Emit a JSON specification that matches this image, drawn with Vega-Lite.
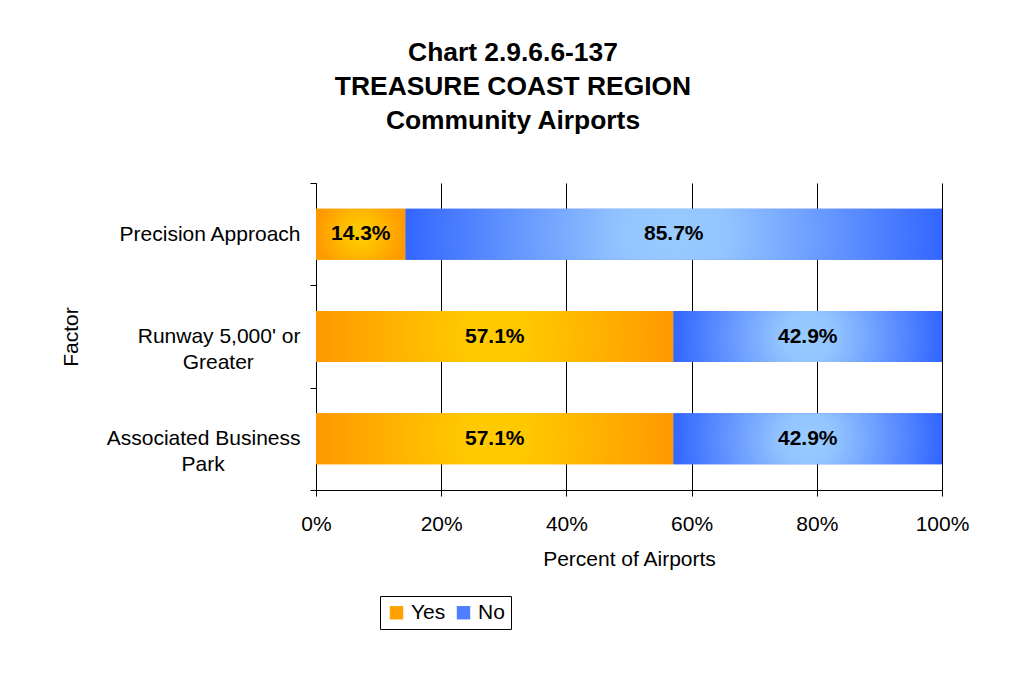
{
  "$schema": "https://vega.github.io/schema/vega-lite/v6.json",
  "width": 626,
  "height": 307,
  "autosize": {"type": "none"},
  "padding": {"left": 316, "top": 183, "right": 71, "bottom": 185},
  "background": "white",
  "config": {
    "view": {"stroke": null},
    "font": "Liberation Sans"
  },
  "title": {
    "text": ["Chart 2.9.6.6-137", "TREASURE COAST REGION", "Community Airports"],
    "font": "Liberation Sans",
    "fontSize": 26.4,
    "fontWeight": "bold",
    "lineHeight": 34,
    "color": "black",
    "anchor": "middle",
    "offset": 38,
    "dx": -116
  },
  "data": {
    "values": [
      {"factor": "Precision Approach", "answer": "Yes", "pct": 0.143},
      {"factor": "Precision Approach", "answer": "No", "pct": 0.857},
      {"factor": "Runway 5,000' or Greater", "answer": "Yes", "pct": 0.571},
      {"factor": "Runway 5,000' or Greater", "answer": "No", "pct": 0.429},
      {"factor": "Associated Business Park", "answer": "Yes", "pct": 0.571},
      {"factor": "Associated Business Park", "answer": "No", "pct": 0.429}
    ]
  },
  "transform": [
    {"stack": "pct", "groupby": ["factor"], "sort": [{"field": "answer", "order": "descending"}], "as": ["x0", "x1"]},
    {"calculate": "(datum.x0 + datum.x1) / 2", "as": "xmid"}
  ],
  "encoding": {
    "y": {
      "field": "factor",
      "type": "nominal",
      "sort": ["Precision Approach", "Runway 5,000' or Greater", "Associated Business Park"],
      "scale": {"paddingInner": 0, "paddingOuter": 0},
      "axis": {
        "tickBand": "extent",
        "tickSize": 6,
        "tickColor": "black",
        "domainColor": "black",
        "grid": false,
        "labelFontSize": 21,
        "labelColor": "black",
        "labelPadding": 10,
        "labelLineHeight": 26,
        "labelLimit": 0,
        "labelExpr": "datum.value == 'Precision Approach' ? 'Precision Approach' : datum.value == \"Runway 5,000' or Greater\" ? [\"Runway 5,000' or\", \"Greater\u00a0\u00a0\u00a0\u00a0\u00a0\u00a0\u00a0\u00a0\u200b\"] : datum.value == 'Associated Business Park' ? [\"Associated Business\", \"Park\u00a0\u00a0\u00a0\u00a0\u00a0\u00a0\u00a0\u00a0\u00a0\u00a0\u00a0\u00a0\u00a0\u200b\"] : ''",
        "title": "Factor",
        "titleFontSize": 21,
        "titleFontWeight": "normal",
        "titleColor": "black",
        "titlePadding": 35
      }
    }
  },
  "layer": [
    {
      "mark": {"type": "bar", "size": 51},
      "encoding": {
        "x": {
          "field": "x0",
          "type": "quantitative",
          "title": "Percent of Airports",
          "scale": {"domain": [0, 1], "nice": false},
          "axis": {
            "values": [0, 0.2, 0.4, 0.6, 0.8, 1],
            "format": ".0%",
            "grid": true,
            "gridColor": "black",
            "gridWidth": 1,
            "domainColor": "black",
            "tickColor": "black",
            "tickSize": 6,
            "labelFontSize": 21,
            "labelColor": "black",
            "labelPadding": 17,
            "labelFlush": false,
            "titleFontSize": 21,
            "titleFontWeight": "normal",
            "titleColor": "black",
            "titlePadding": 14
          }
        },
        "x2": {"field": "x1"},
        "color": {
          "field": "answer",
          "type": "nominal",
          "scale": {"domain": ["Yes", "No"], "range": ["#FFA200", "#4F7FFF"]},
          "legend": {
            "orient": "none",
            "legendX": 64,
            "legendY": 413,
            "direction": "horizontal",
            "title": null,
            "strokeColor": "black",
            "fillColor": "white",
            "padding": 6,
            "labelFontSize": 21,
            "labelColor": "black",
            "symbolType": "square",
            "symbolSize": 180,
            "symbolStrokeWidth": 0,
            "labelOffset": 4,
            "columnPadding": 7
          }
        }
      }
    },
    {
      "transform": [{"filter": "datum.answer == 'Yes'"}],
      "mark": {
        "type": "bar",
        "size": 51,
        "fill": {
          "gradient": "radial",
          "x1": 0.5, "y1": 0.5, "r1": 0,
          "x2": 0.5, "y2": 0.5, "r2": 0.5,
          "stops": [
            {"offset": 0, "color": "#FFCC00"},
            {"offset": 0.2, "color": "#FFC800"},
            {"offset": 1, "color": "#FF9900"}
          ]
        }
      },
      "encoding": {
        "x": {"field": "x0", "type": "quantitative", "title": "Percent of Airports"},
        "x2": {"field": "x1"}
      }
    },
    {
      "transform": [{"filter": "datum.answer == 'No'"}],
      "mark": {
        "type": "bar",
        "size": 51,
        "fill": {
          "gradient": "radial",
          "x1": 0.5, "y1": 0.5, "r1": 0,
          "x2": 0.5, "y2": 0.5, "r2": 0.5,
          "stops": [
            {"offset": 0, "color": "#99CCFF"},
            {"offset": 0.2, "color": "#93C4FF"},
            {"offset": 1, "color": "#3366FF"}
          ]
        }
      },
      "encoding": {
        "x": {"field": "x0", "type": "quantitative", "title": "Percent of Airports"},
        "x2": {"field": "x1"}
      }
    },
    {
      "mark": {"type": "text", "font": "Liberation Sans", "fontSize": 21, "fontWeight": "bold", "color": "black"},
      "encoding": {
        "x": {"field": "xmid", "type": "quantitative", "title": "Percent of Airports"},
        "text": {"field": "pct", "type": "quantitative", "format": ".1%"}
      }
    }
  ]
}
